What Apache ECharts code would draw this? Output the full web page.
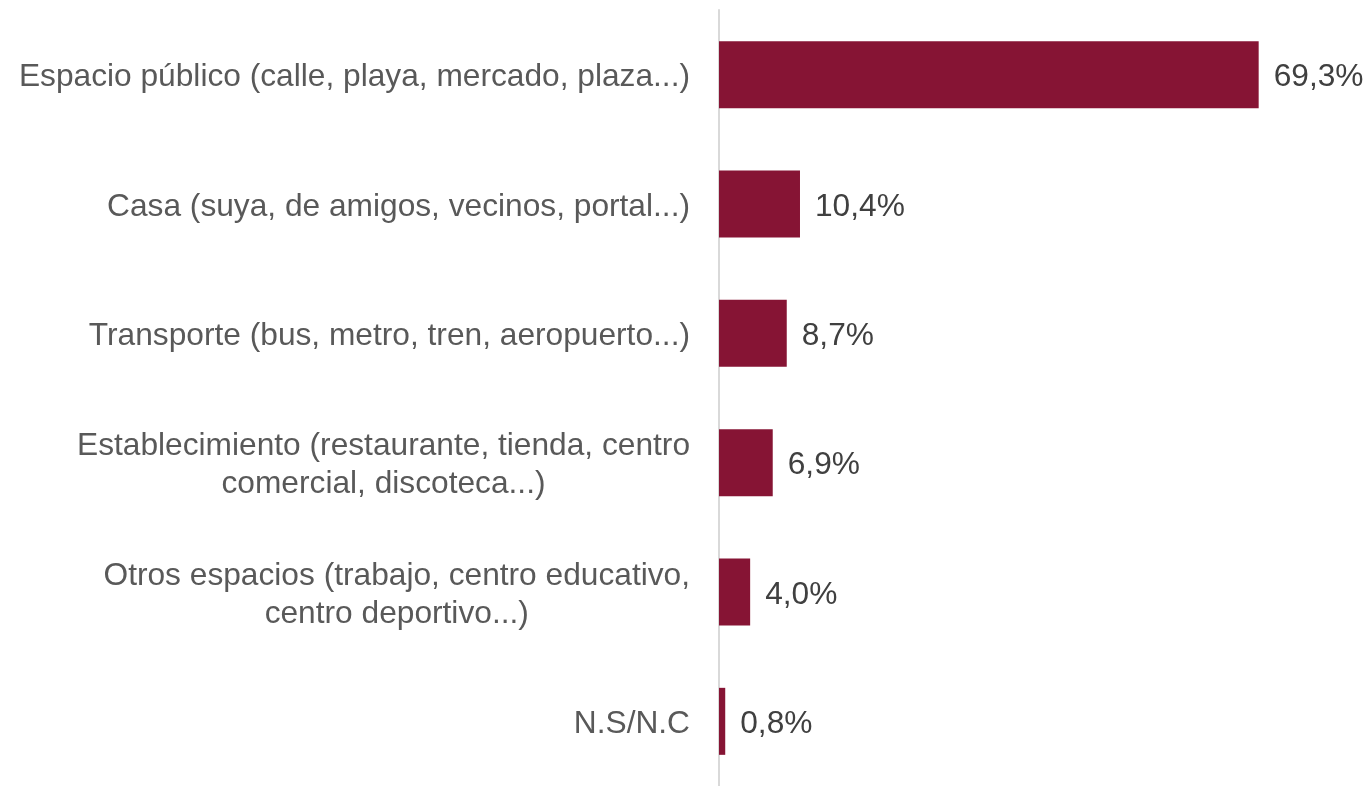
<!DOCTYPE html>
<html>
<head>
<meta charset="utf-8">
<script src="https://cdn.jsdelivr.net/npm/echarts@6/dist/echarts.min.js"></script>
<style>
  html, body { margin: 0; padding: 0; background: #ffffff; }
  #chart { width: 1371px; height: 786px; }
</style>
</head>
<body>
<div id="chart"></div>
<script>
// categorías (de arriba a abajo)
const categories = [
  'Espacio público (calle, playa, mercado, plaza...)',
  'Casa (suya, de amigos, vecinos, portal...)',
  'Transporte (bus, metro, tren, aeropuerto...)',
  'Establecimiento (restaurante, tienda, centro\ncomercial, discoteca...)',
  'Otros espacios (trabajo, centro educativo,\ncentro deportivo...)',
  'N.S/N.C'
]
const values = [69.3, 10.4, 8.7, 6.9, 4.0, 0.8]

const FONT = 'Liberation Sans, Arial, sans-serif'

const chart = echarts.init(document.getElementById('chart'))

const option = {
  backgroundColor: '#ffffff',
  animation: false,
  grid: {
    left: 719,
    right: 29,
    top: 10,
    bottom: -4,
    containLabel: false
  },
  xAxis: {
    type: 'value',
    min: 0,
    max: 80,
    show: false
  },
  yAxis: {
    type: 'category',
    inverse: true,
    data: categories,
    axisLine: { show: true, lineStyle: { color: '#d9d9d9', width: 2 } },
    axisTick: { show: false },
    axisLabel: {
      margin: 29,
      align: 'right',
      padding: [6, 0, 0, 0],
      // cada línea centrada dentro del bloque
      formatter: v => v.split('\n').map(l => '{c|' + l + '}').join('\n'),
      rich: {
        c: {
          align: 'center',
          color: '#595959',
          fontFamily: FONT,
          fontSize: 31.7,
          lineHeight: 38
        }
      }
    }
  },
  series: [
    {
      type: 'bar',
      data: values,
      barWidth: 67,
      itemStyle: { color: '#861434' },
      label: {
        show: true,
        position: 'right',
        distance: 15,
        offset: [0, 3],
        color: '#404040',
        fontFamily: FONT,
        fontSize: 31.7,
        formatter: p => p.value.toFixed(1).replace('.', ',') + '%'
      }
    }
  ]
}

chart.setOption(option)
</script>
</body>
</html>
